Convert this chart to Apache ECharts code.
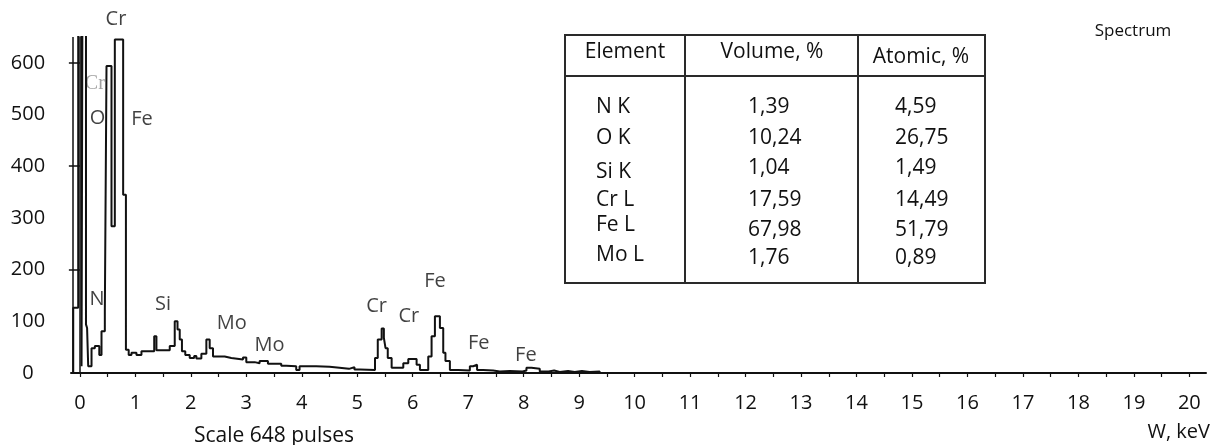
<!DOCTYPE html>
<html>
<head>
<meta charset="utf-8">
<script src="https://cdn.jsdelivr.net/npm/echarts@6/dist/echarts.min.js"></script>
<style>
html,body{margin:0;padding:0;background:#fff;}
#c{width:1220px;height:445px;}
</style>
</head>
<body>
<div id="c"></div>
<script>
// ---- spectrum data (energy in keV, counts); step profile ----
const energy = [-0.12,-0.12,-0.03,0.03,0.05,0.11,0.13,0.15,0.21,0.27,0.35,0.39,0.45,0.48,0.57,0.63,0.78,0.83,0.88,0.93,
  1.02,1.11,1.34,1.38,1.62,1.71,1.76,1.80,1.84,1.90,1.98,2.06,2.10,2.19,2.28,2.34,2.40,2.61,2.73,2.94,
  3.00,3.15,3.24,3.39,3.63,3.72,3.90,3.96,4.26,4.50,4.68,4.85,4.95,5.05,5.32,5.37,5.44,5.48,5.51,5.55,
  5.62,5.83,5.92,6.07,6.13,6.28,6.34,6.40,6.49,6.55,6.59,6.67,6.82,7.03,7.09,7.16,7.27,7.45,7.57,7.75,
  7.98,8.05,8.14,8.29,8.45,8.55,8.65,8.80,8.92,9.05,9.19,9.37];
const counts = [0,126,900,13,900,94,87,13,48,52,35,81,119,594,284,645,345,45,35,39,
  35,42,71,44,52,100,84,65,42,35,29,33,28,37,65,48,32,29,26,30,
  21,19,23,18,14,13,6,13,12,10,8,11,7,6,29,65,86,68,48,29,
  10,19,27,16,6,32,71,110,87,39,23,6,5,13,16,6,5,3,4,3,
  5,10,8,3,5,2,4,2,4,2,3,0];

// ---- peak annotations (element, keV, counts) ----
const peakNames  = ['Cr','Cr','O','Fe','N','Si','Mo','Mo','Cr','Cr','Fe','Fe','Fe'];
const peakEnergy = [0.65,0.27,0.32,1.12,0.31,1.50,2.74,3.42,5.35,5.93,6.40,7.19,8.04];
const peakCounts = [685,559,492,490,143,132,97,54,130,110,178,58,35];

// ---- table ----
const tableHeader = ['Element','Volume, %','Atomic, %'];
const elements = ['N K','O K','Si K','Cr L','Fe L','Mo L'];
const volumePct = ['1,39','10,24','1,04','17,59','67,98','1,76'];
const atomicPct = ['4,59','26,75','1,49','14,49','51,79','0,89'];

// ---- ticks ----
const xTickLabels = [0,1,2,3,4,5,6,7,8,9,10,11,12,13,14,15,16,17,18,19,20];
const xTickMarks = [0,0.5,1,1.5,2,2.5,3,3.5,4,4.5,5,5.5,6,6.5,7,7.5,8,8.5,9,9.5,10,10.5,11,11.5,12,12.5,13,13.5,14,14.5,15,15.5,16,16.5,17,17.5,18,18.5,19,19.5,20];
const yTickLabels = [0,100,200,300,400,500,600];
const yTickMarks = [200,400,600];

const FONT = "'Open Sans', 'Noto Sans', sans-serif";
const INK = '#111';

const spectrum = energy.map((e, i) => [e, counts[i]]);
const peaks = peakNames.map((n, i) => {
  const item = { name: n, value: [peakEnergy[i], peakCounts[i]] };
  if (i === 1) item.label = { color: '#8a8a8a', fontFamily: "'Liberation Serif', 'DejaVu Serif', serif", fontSize: 20 };
  return item;
});

// table graphics
const T = { x0: 565, x1: 685, x2: 858, x3: 985, y0: 35, yh: 76, y1: 283 };
const rowY1 = [107,138,172,200,225,255];
const rowY23 = [107,138,168,200,230,258];
const tableStyle = { stroke: '#2a2a2a', lineWidth: 2 };
const TF = '21px ' + FONT;
const graphics = [
  { type: 'rect', shape: { x: T.x0, y: T.y0, width: T.x3 - T.x0, height: T.y1 - T.y0 }, style: { fill: 'none', stroke: '#2a2a2a', lineWidth: 2 } },
  { type: 'line', shape: { x1: T.x0, y1: T.yh, x2: T.x3, y2: T.yh }, style: tableStyle },
  { type: 'line', shape: { x1: T.x1, y1: T.y0, x2: T.x1, y2: T.y1 }, style: tableStyle },
  { type: 'line', shape: { x1: T.x2, y1: T.y0, x2: T.x2, y2: T.y1 }, style: tableStyle },
  { type: 'text', x: 625, y: 52, style: { text: tableHeader[0], font: TF, fill: INK, textAlign: 'center', textVerticalAlign: 'middle' } },
  { type: 'text', x: 772, y: 52, style: { text: tableHeader[1], font: TF, fill: INK, textAlign: 'center', textVerticalAlign: 'middle' } },
  { type: 'text', x: 921, y: 57, style: { text: tableHeader[2], font: TF, fill: INK, textAlign: 'center', textVerticalAlign: 'middle' } },
  { type: 'text', x: 274, y: 436, style: { text: 'Scale 648 pulses', font: '21px ' + FONT, fill: INK, textAlign: 'center', textVerticalAlign: 'middle' } },
  { type: 'text', x: 1210, y: 432, style: { text: 'W, keV', font: '20px ' + FONT, fill: INK, textAlign: 'right', textVerticalAlign: 'middle' } },
  { type: 'text', x: 1133, y: 31, style: { text: 'Spectrum', font: '17px ' + FONT, fill: INK, textAlign: 'center', textVerticalAlign: 'middle' } }
];
elements.forEach((el, i) => {
  graphics.push({ type: 'text', x: 596, y: rowY1[i], style: { text: el, font: TF, fill: INK, textAlign: 'left', textVerticalAlign: 'middle' } });
  graphics.push({ type: 'text', x: 748, y: rowY23[i], style: { text: volumePct[i], font: TF, fill: INK, textAlign: 'left', textVerticalAlign: 'middle' } });
  graphics.push({ type: 'text', x: 895, y: rowY23[i], style: { text: atomicPct[i], font: TF, fill: INK, textAlign: 'left', textVerticalAlign: 'middle' } });
});

const chart = echarts.init(document.getElementById('c'), null, { renderer: 'canvas' });
chart.setOption({
  animation: false,
  backgroundColor: '#fff',
  grid: { left: 71, right: 14, top: 37, bottom: 72, containLabel: false },
  xAxis: {
    type: 'value', min: -0.16, max: 20.3,
    axisLine: { show: true, lineStyle: { color: INK, width: 2 } },
    axisTick: { show: true, customValues: xTickMarks, length: 4, lineStyle: { color: INK, width: 1.2 } },
    axisLabel: { show: true, customValues: xTickLabels, margin: 20, color: INK, fontSize: 20, fontFamily: FONT },
    splitLine: { show: false }
  },
  yAxis: {
    type: 'value', min: 0, max: 650,
    axisLine: { show: true, lineStyle: { color: INK, width: 1.5 } },
    axisTick: { show: true, customValues: yTickMarks, length: 11, lineStyle: { color: INK, width: 1.5 } },
    axisLabel: { show: true, customValues: yTickLabels, margin: 43, align: 'center', color: INK, fontSize: 20, fontFamily: FONT },
    splitLine: { show: false }
  },
  series: [
    {
      type: 'line', data: spectrum, step: 'end', showSymbol: false, symbol: 'none',
      lineStyle: { color: '#111', width: 2 }, clip: true,
      markLine: {
        silent: true, symbol: 'none', label: { show: false },
        lineStyle: { color: INK, width: 1.5, type: 'solid' },
        data: [{ xAxis: -0.12 }]
      }
    },
    {
      type: 'scatter', data: peaks, symbolSize: 0, clip: false, silent: true,
      label: { show: true, position: 'inside', formatter: '{b}', color: INK, fontSize: 20, fontFamily: FONT }
    }
  ],
  graphic: graphics
});
</script>
</body>
</html>
